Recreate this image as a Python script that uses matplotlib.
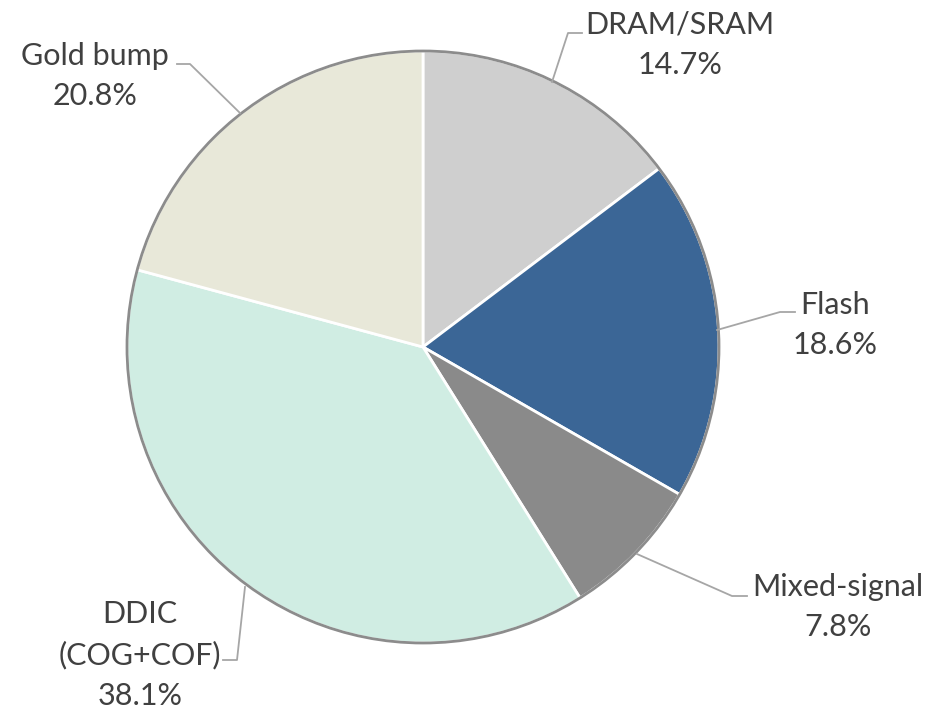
import matplotlib.pyplot as plt
from matplotlib.patches import Circle

labels = ["DRAM/SRAM", "Flash", "Mixed-signal", "DDIC\n(COG+COF)", "Gold bump"]
shares = [14.7, 18.6, 7.8, 38.1, 20.8]
colors = ["#cfcfcf", "#3b6696", "#8a8a8a", "#d0ede3", "#e8e8d9"]

W, H = 932, 713
cx, cy, r = 423, H - 347, 296

# text anchor (pixel coords, y from top) and leader-line points
text_pos = [(680, 45), (835, 325), (838, 607), (140, 655), (95, 76)]
leaders = [
    [(582, 33), (568, 33), (552, 82)],
    [(795, 312), (780, 312), (717, 330)],
    [(747, 596), (732, 596), (637, 554)],
    [(223, 660), (237, 660), (245, 587)],
    [(177, 64), (190, 64), (240, 113)],
]

fig = plt.figure(figsize=(W / 100, H / 100), dpi=100)
ax = fig.add_axes([0, 0, 1, 1])

ax.pie(shares, colors=colors, startangle=90, counterclock=False,
       center=(cx, cy), radius=r, frame=True,
       wedgeprops=dict(edgecolor="white", linewidth=2))
ax.add_patch(Circle((cx, cy), r, fill=False, edgecolor="#8c8c8c", linewidth=2))
ax.set_xlim(0, W)
ax.set_ylim(0, H)
ax.set_aspect("equal")
ax.axis("off")

for lab, v, (tx, ty), pts in zip(labels, shares, text_pos, leaders):
    ax.text(tx, H - ty, f"{lab}\n{v}%", ha="center", va="center",
            fontsize=22, color="#404040", family="Lato", linespacing=1.55)
    ax.plot([p[0] for p in pts], [H - p[1] for p in pts],
            color="#a6a6a6", linewidth=1.3)

fig.savefig("out.png", dpi=100)
